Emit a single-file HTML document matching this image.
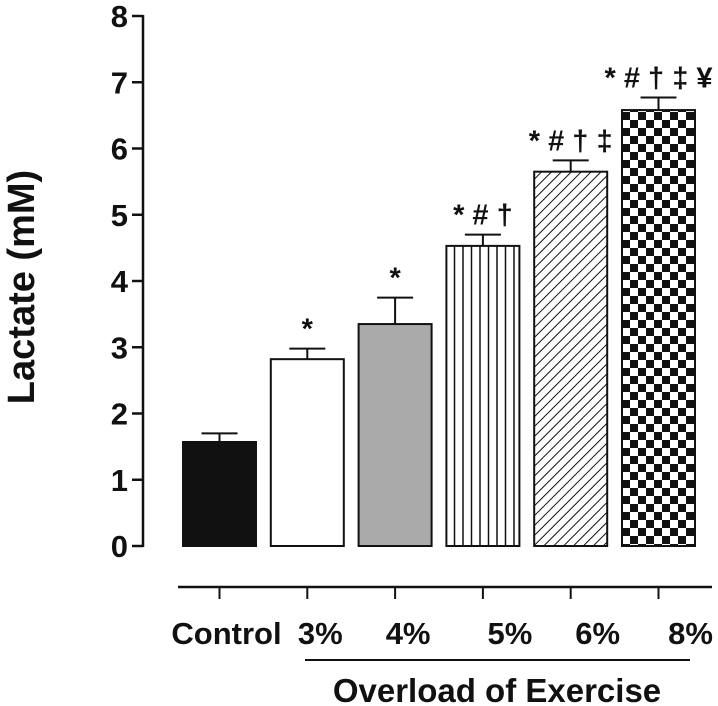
<!DOCTYPE html>
<html><head><meta charset="utf-8"><style>
html,body{margin:0;padding:0;background:#fff;}
svg{display:block;font-family:"Liberation Sans",Arial,sans-serif;font-weight:bold;}
</style></head><body>
<svg id="chart" width="718" height="706" viewBox="0 0 718 706">
<defs>
<pattern id="pv" width="8.5" height="10" patternUnits="userSpaceOnUse"><rect width="8.5" height="10" fill="#fff"/><line x1="4" y1="0" x2="4" y2="10" stroke="#111" stroke-width="1.5"/></pattern>
<pattern id="pd" width="7" height="7" patternUnits="userSpaceOnUse" patternTransform="rotate(45)"><rect width="7" height="7" fill="#fff"/><line x1="0" y1="0" x2="0" y2="7" stroke="#111" stroke-width="2"/></pattern>
<pattern id="pc" width="16" height="16" patternUnits="userSpaceOnUse" x="622" y="0"><rect width="16" height="16" fill="#fff"/><rect x="0" y="0" width="8" height="8" fill="#111"/><rect x="8" y="8" width="8" height="8" fill="#111"/></pattern>
</defs>
<g id="axes"></g>
<g id="bars"></g>
<text transform="translate(34,287) rotate(-90)" text-anchor="middle" font-size="38" fill="#111">Lactate (mM)</text>
<line x1="305" y1="660" x2="690" y2="660" stroke="#111" stroke-width="2"/>
<text x="497" y="702" text-anchor="middle" font-size="33" fill="#111">Overload of Exercise</text>
</svg>
<script>
const categories=["Control","3%","4%","5%","6%","8%"];
const values=[1.57,2.82,3.35,4.53,5.65,6.58];
const errors=[0.13,0.16,0.40,0.17,0.17,0.19];
const sigLabels=["","*","*","* # †","* # † ‡","* # † ‡ ¥"];
const yTicks=[0,1,2,3,4,5,6,7,8];
const fills=["#111","#fff","#aaa","url(#pv)","url(#pd)","url(#pc)"];
const labelOffsets=[7,13,13,27,27,32];
const NS="http://www.w3.org/2000/svg";
const y0=546,pxPerUnit=66.25,x0=183,step=87.8,bw=73,axX=143;
function ys(v){return y0-v*pxPerUnit;}
function xs(i){return x0+i*step;}
function mk(tag,attrs,parent,text){const e=document.createElementNS(NS,tag);for(const k in attrs)e.setAttribute(k,attrs[k]);if(text!==undefined)e.textContent=text;parent.appendChild(e);return e;}
const axes=document.getElementById('axes'),bars=document.getElementById('bars');
let ax=mk('line',{x1:axX,y1:ys(8)-1,x2:axX,y2:ys(0)+1,stroke:'#111','stroke-width':2.5},axes);


yTicks.forEach(t=>{
 let l=mk('line',{x1:132,y1:ys(t),x2:axX,y2:ys(t),stroke:'#111','stroke-width':2.5},axes);
 
 
 let tx=mk('text',{x:128,y:ys(t)+11,'text-anchor':'end','font-size':31,fill:'#111'},axes,String(t));
 
 
});
let bx=mk('line',{x1:178,y1:587,x2:712,y2:587,stroke:'#111','stroke-width':2.5},axes);


categories.forEach((c,i)=>{
 const cx=xs(i)+bw/2,v=values[i],e=errors[i];
 let r=mk('rect',{x:xs(i),y:ys(v),width:bw,height:ys(0)-ys(v),fill:fills[i],stroke:'#111','stroke-width':2},bars);
 
 
 let el=mk('line',{x1:cx,y1:ys(v),x2:cx,y2:ys(v+e),stroke:'#111','stroke-width':2},bars);
 
 
 let ec=mk('line',{x1:cx-18,y1:ys(v+e),x2:cx+18,y2:ys(v+e),stroke:'#111','stroke-width':2},bars);
 
 
 if(sigLabels[i]){
  let s=mk('text',{x:cx,y:ys(v+e)-10,'text-anchor':'middle','font-size':29,fill:'#111'},bars,sigLabels[i]);
  
  
 }
 let tk=mk('line',{x1:cx,y1:587,x2:cx,y2:599,stroke:'#111','stroke-width':2},axes);
 
 
 let lb=mk('text',{x:cx+labelOffsets[i],y:644,'text-anchor':'middle','font-size':31,fill:'#111'},axes,c);
 
 
});
</script>
</body></html>
